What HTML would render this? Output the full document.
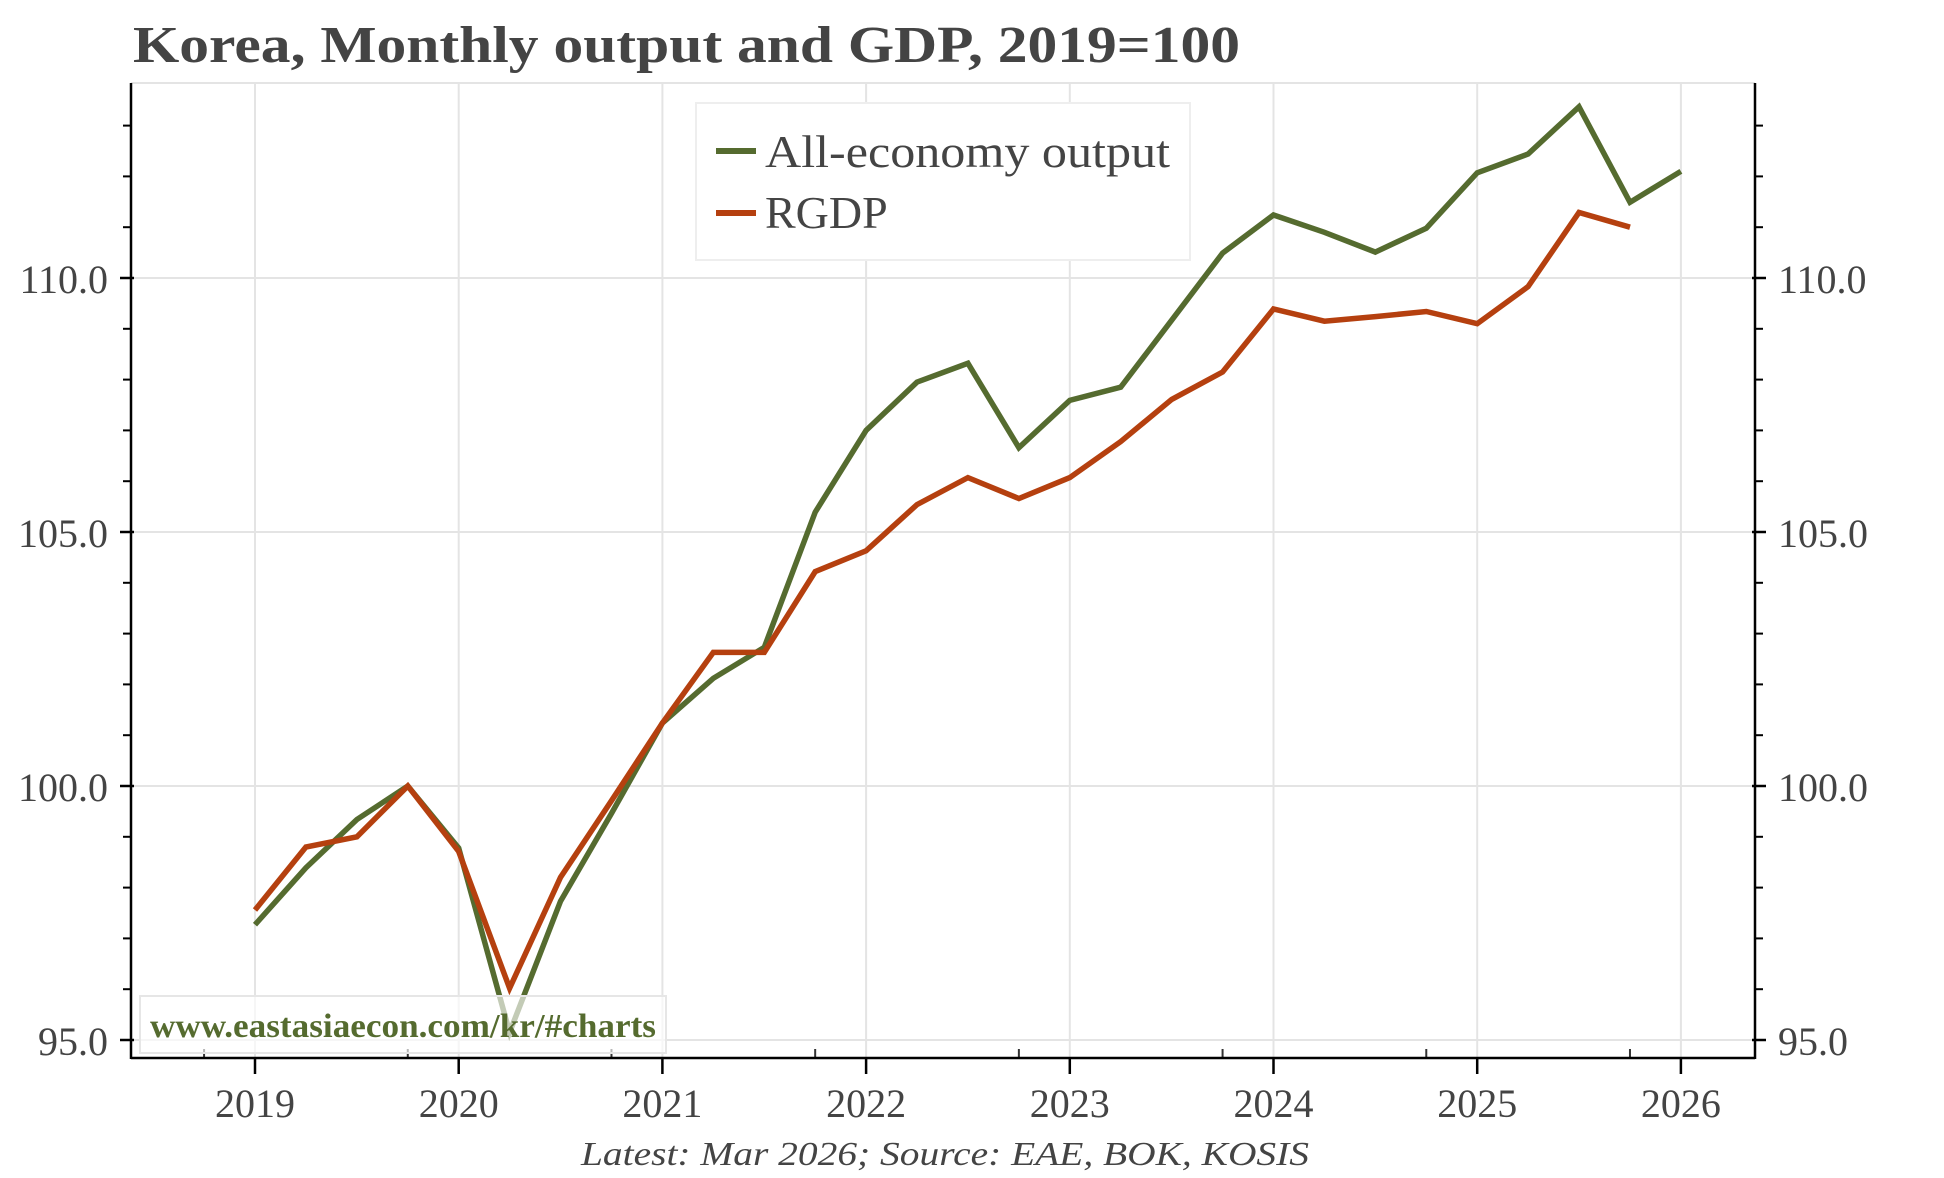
<!DOCTYPE html>
<html><head><meta charset="utf-8"><style>
html,body{margin:0;padding:0;background:#fff}
svg{display:block}
text{font-family:"Liberation Serif",serif;fill:#444}
</style></head><body>
<svg id="chart" width="1944" height="1178" viewBox="0 0 1944 1178" xmlns="http://www.w3.org/2000/svg">
<text x="133" y="62" font-size="52" font-weight="bold" textLength="1107" lengthAdjust="spacingAndGlyphs">Korea, Monthly output and GDP, 2019=100</text>
<g id="grid"></g>
<g id="axes"></g>
<g id="series"></g>
<g>
<rect x="140" y="996" width="526" height="57" fill="rgba(255,255,255,0.65)" stroke="#e6e6e6" stroke-width="2"/>
<text x="150" y="1037" font-size="34" font-weight="bold" style="fill:#556b2f" textLength="506" lengthAdjust="spacingAndGlyphs">www.eastasiaecon.com/kr/#charts</text>
</g>
<g>
<rect x="696" y="103" width="494" height="157" fill="#fff" stroke="#eeeeee" stroke-width="2"/>
<line x1="716" y1="151" x2="756" y2="151" stroke="#556b2f" stroke-width="6"/>
<text x="765" y="167" font-size="46" textLength="405" lengthAdjust="spacingAndGlyphs">All-economy output</text>
<line x1="716" y1="213" x2="756" y2="213" stroke="#b5400f" stroke-width="6"/>
<text x="765" y="228" font-size="46">RGDP</text>
</g>
<text x="945" y="1165" font-size="34" font-style="italic" text-anchor="middle" textLength="728" lengthAdjust="spacingAndGlyphs">Latest: Mar 2026; Source: EAE, BOK, KOSIS</text>
</svg>
<script>
const years = [2019,2020,2021,2022,2023,2024,2025,2026];
const yTicks = [95,100,105,110];
const yTickLabels = ["95.0","100.0","105.0","110.0"];
const outputX = [2019,2019.25,2019.5,2019.75,2020,2020.25,2020.5,2020.75,2021,2021.25,2021.5,2021.75,2022,2022.25,2022.5,2022.75,2023,2023.25,2023.5,2023.75,2024,2024.25,2024.5,2024.75,2025,2025.25,2025.5,2025.75,2026];
const outputValues = [97.27,98.39,99.34,100,98.78,95.15,97.73,99.46,101.24,102.12,102.73,105.39,107.0,107.95,108.32,106.66,107.59,107.85,109.17,110.49,111.24,110.90,110.51,110.98,112.07,112.44,113.37,111.49,112.10];
const rgdpX = [2019,2019.25,2019.5,2019.75,2020,2020.25,2020.5,2020.75,2021,2021.25,2021.5,2021.75,2022,2022.25,2022.5,2022.75,2023,2023.25,2023.5,2023.75,2024,2024.25,2024.5,2024.75,2025,2025.25,2025.5,2025.75];
const rgdpValues = [97.56,98.80,99.0,100,98.71,96.02,98.2,99.71,101.24,102.63,102.63,104.22,104.63,105.54,106.07,105.66,106.07,106.78,107.61,108.15,109.39,109.15,109.24,109.34,109.1,109.83,111.29,111.0];

const NS="http://www.w3.org/2000/svg";
const L=131,R=1755,T=83,B=1058;
function xs(v){return 255+(v-2019)*203.7;}
function ys(v){return 1040-(v-95)*50.8;}
function mk(tag,attrs,parent){const e=document.createElementNS(NS,tag);for(const k in attrs)e.setAttribute(k,attrs[k]);parent.appendChild(e);return e;}
const grid=document.getElementById('grid'),axes=document.getElementById('axes'),series=document.getElementById('series');

years.forEach(y=>{
  const g=mk('line',{x1:xs(y),x2:xs(y),y1:T,y2:B,stroke:'#e4e4e4','stroke-width':2},grid);
  
  
  const t=mk('line',{x1:xs(y),x2:xs(y),y1:B,y2:B+16,stroke:'#000','stroke-width':2.5},axes);
  
  
  const m=mk('line',{x1:xs(y-0.25),x2:xs(y-0.25),y1:B-9,y2:B,stroke:'#333','stroke-width':2},axes);
  
  
  const lb=mk('text',{x:xs(y),y:1117,'font-size':40,'text-anchor':'middle'},axes);
  lb.textContent=y;
  
  
});
mk('line',{x1:L,x2:R,y1:T,y2:T,stroke:'#e4e4e4','stroke-width':2},grid);
yTicks.forEach((v,i)=>{
  const g=mk('line',{x1:L,x2:R,y1:ys(v),y2:ys(v),stroke:'#e4e4e4','stroke-width':2},grid);
  
  
  [[L-11,L+3],[R-3,R+11]].forEach(p=>{
    const t=mk('line',{x1:p[0],x2:p[1],y1:ys(v),y2:ys(v),stroke:'#000','stroke-width':2.5},axes);
    
    
  });
  const a=mk('text',{x:108,y:ys(v)+15,'font-size':40,'text-anchor':'end'},axes);
  a.textContent=yTickLabels[i];
  
  
  const b=mk('text',{x:1778,y:ys(v)+15,'font-size':40},axes);
  b.textContent=yTickLabels[i];
  
  
});
for(let v=95;v<=113;v++){ if(v%5===0) continue;
  [[L-8,L],[R,R+8]].forEach(p=>{
    const t=mk('line',{x1:p[0],x2:p[1],y1:ys(v),y2:ys(v),stroke:'#000','stroke-width':2},axes);
    
    
  });
}
const la=mk('line',{x1:L,x2:L,y1:T,y2:B+1,stroke:'#000','stroke-width':2.5},axes);


const ra=mk('line',{x1:R,x2:R,y1:T,y2:B+1,stroke:'#000','stroke-width':2.5},axes);


const xa=mk('line',{x1:L,x2:R,y1:B,y2:B,stroke:'#000','stroke-width':2.5},axes);



function pts(xa,va){return xa.map((x,i)=>xs(x).toFixed(1)+','+ys(va[i]).toFixed(1)).join(' ');}
const p1=mk('polyline',{points:pts(outputX,outputValues),fill:'none',stroke:'#556b2f','stroke-width':5.5,'stroke-linejoin':'miter'},series);


const p2=mk('polyline',{points:pts(rgdpX,rgdpValues),fill:'none',stroke:'#b5400f','stroke-width':5.5,'stroke-linejoin':'miter'},series);


</script>
</body></html>
